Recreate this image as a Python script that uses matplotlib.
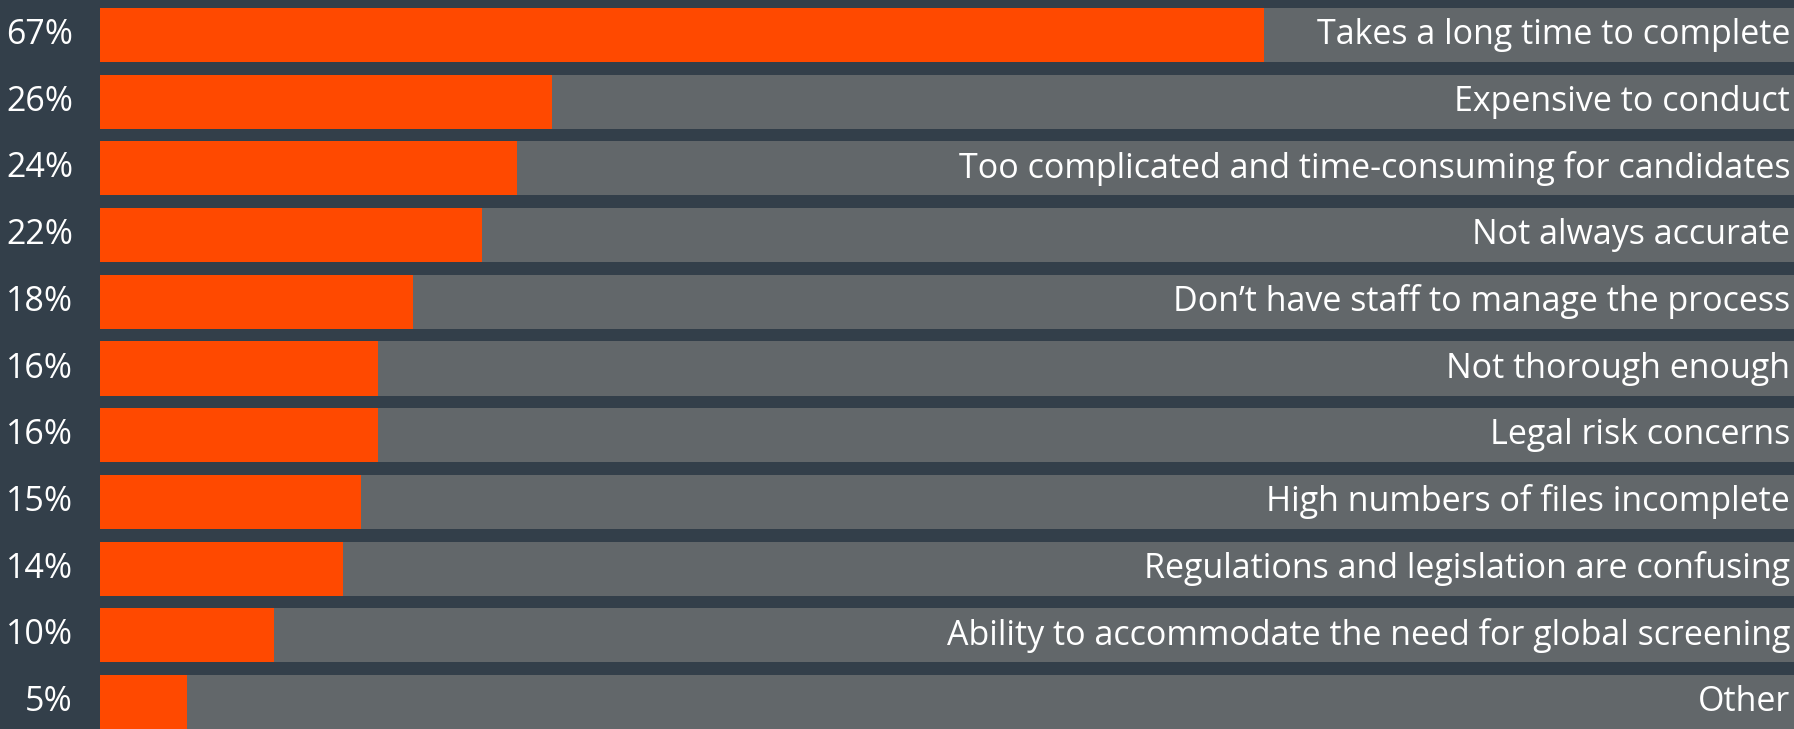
import matplotlib
matplotlib.use("Agg")
import matplotlib.pyplot as plt

# ── Data ─────────────────────────────────────────────────────────────────────
categories = [
    "Takes a long time to complete",
    "Expensive to conduct",
    "Too complicated and time-consuming for candidates",
    "Not always accurate",
    "Don\u2019t have staff to manage the process",
    "Not thorough enough",
    "Legal risk concerns",
    "High numbers of files incomplete",
    "Regulations and legislation are confusing",
    "Ability to accommodate the need for global screening",
    "Other",
]
values = [67, 26, 24, 22, 18, 16, 16, 15, 14, 10, 5]
pct_labels = [f"{v}%" for v in values]

BG     = "#333F4A"
GREY   = "#62676A"
ORANGE = "#FF4900"
XMAX   = 97.5

W, H, DPI = 1794, 729, 100
fig = plt.figure(figsize=(W / DPI, H / DPI), dpi=DPI, facecolor=BG)
ax = fig.add_axes([100 / W, 0, 1 - 100 / W, 1])
ax.set_facecolor(BG)

ys = list(range(len(values)))
ax.barh(ys, [XMAX] * len(values), height=0.81, color=GREY, left=0)
ax.barh(ys, values, height=0.81, color=ORANGE, left=0)

for y, cat, lab in zip(ys, categories, pct_labels):
    ax.annotate(cat, xy=(XMAX, y), xycoords="data", xytext=(-4, 0),
                textcoords="offset pixels", ha="right", va="center",
                color="white", fontsize=24.5, family="Open Sans")
    ax.annotate(lab, xy=(0, y), xycoords="data", xytext=(-27, 0),
                textcoords="offset pixels", ha="right", va="center",
                color="white", fontsize=24.5, family="Open Sans",
                annotation_clip=False)

ax.set_xlim(0, XMAX)
ax.set_ylim(10.405, -0.525)
ax.axis("off")

fig.savefig("out.png", dpi=DPI, facecolor=BG)
